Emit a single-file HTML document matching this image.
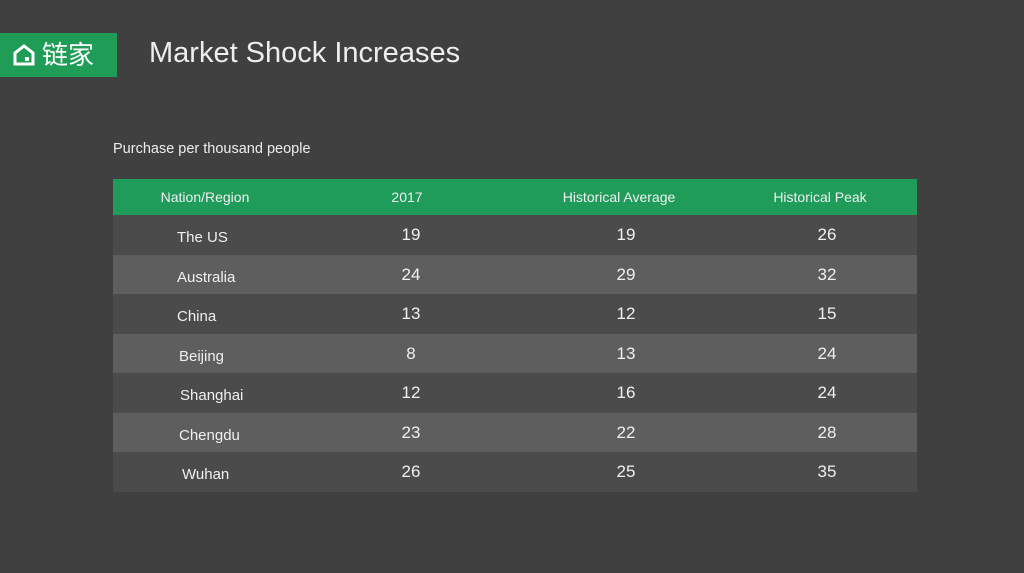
<!DOCTYPE html>
<html><head><meta charset="utf-8"><style>
body{margin:0;width:1024px;height:573px;background:#404040;position:relative;overflow:hidden;font-family:"Liberation Sans","Noto Sans CJK SC",sans-serif;color:#f0f0f0}
.logo{position:absolute;left:0;top:33px;width:117px;height:44px;background:#1f9d57;color:#fff;font-size:26px;line-height:44px}
.title{position:absolute;left:149px;top:37px;font-size:29px;color:#eee}
.sub{position:absolute;left:113px;top:141px;font-size:14.5px;color:#eee}
.row{position:absolute;left:113px;width:804px;height:39.5px}
.row div{position:absolute;top:0;line-height:39px;font-size:17px;transform:translateX(-50%)}
.row div.n{transform:none;font-size:15px;top:3px}
.hd{top:179px;height:36px;background:#1f9b5a}
.hd div{line-height:36px;font-size:14px}
</style></head><body>
<div class="logo"><svg style="position:absolute;left:12px;top:11px" width="24" height="22" viewBox="0 0 24 22"><path d="M3 20V9L12 2L21 9V20Z" fill="none" stroke="#fff" stroke-width="3"/><rect x="13" y="13" width="4" height="4" fill="#fff"/></svg><span style="position:absolute;left:42px;top:0">链家</span></div>
<div class="title">Market Shock Increases</div>
<div class="sub">Purchase per thousand people</div>
<div class="row hd"><div style="left:92px">Nation/Region</div><div style="left:294px">2017</div><div style="left:506px">Historical Average</div><div style="left:707px">Historical Peak</div></div>
<div class="row" style="top:215px;background:#4b4b4b"><div class="n" style="left:64px">The US</div><div style="left:298px">19</div><div style="left:513px">19</div><div style="left:714px">26</div></div>
<div class="row" style="top:255px;background:#5e5e5e"><div class="n" style="left:64px">Australia</div><div style="left:298px">24</div><div style="left:513px">29</div><div style="left:714px">32</div></div>
<div class="row" style="top:294px;background:#4b4b4b"><div class="n" style="left:64px">China</div><div style="left:298px">13</div><div style="left:513px">12</div><div style="left:714px">15</div></div>
<div class="row" style="top:334px;background:#5e5e5e"><div class="n" style="left:66px">Beijing</div><div style="left:298px">8</div><div style="left:513px">13</div><div style="left:714px">24</div></div>
<div class="row" style="top:373px;background:#4b4b4b"><div class="n" style="left:67px">Shanghai</div><div style="left:298px">12</div><div style="left:513px">16</div><div style="left:714px">24</div></div>
<div class="row" style="top:413px;background:#5e5e5e"><div class="n" style="left:66px">Chengdu</div><div style="left:298px">23</div><div style="left:513px">22</div><div style="left:714px">28</div></div>
<div class="row" style="top:452px;background:#4b4b4b"><div class="n" style="left:69px">Wuhan</div><div style="left:298px">26</div><div style="left:513px">25</div><div style="left:714px">35</div></div>
</body></html>
